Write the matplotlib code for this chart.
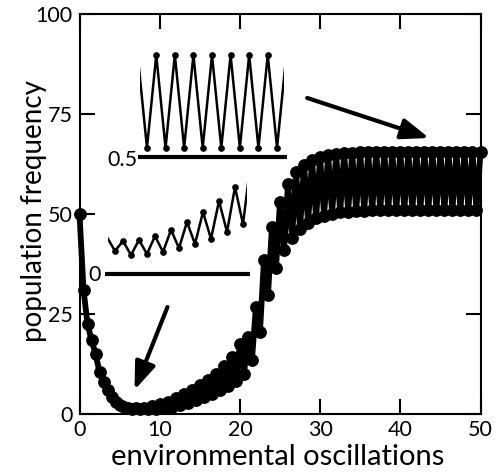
import matplotlib
matplotlib.use("Agg")
import matplotlib.pyplot as plt
import numpy as np

# ---- main series: value at integer steps (upper) and half steps (lower) ----
upper = [50, 22.5, 15.0, 8.0, 4.2, 2.2, 1.6, 1.4, 1.5, 1.9, 2.4, 3.0, 4.0, 5.0, 6.0,
         7.2, 8.5, 10.0, 12.0, 14.3, 17.5, 19.2, 26.8, 38.5, 46.8, 53.0, 57.5,
         60.5, 62.3, 63.5, 64.2, 64.7, 65.0, 65.2, 65.3, 65.4, 65.4, 65.5, 65.5,
         65.5, 65.5, 65.5, 65.5, 65.5, 65.5, 65.5, 65.5, 65.5, 65.5, 65.5, 65.5]
lower = [31, 18.5, 10.5, 6.0, 3.0, 1.7, 1.3, 1.2, 1.2, 1.3, 1.5, 1.8, 2.2, 2.8,
         3.5, 4.2, 5.0, 6.0, 7.0, 8.3, 10.0, 13.5, 20.5, 29.7, 36.5, 41.0, 44.0,
         46.3, 47.8, 48.9, 49.6, 50.1, 50.4, 50.6, 50.7, 50.8, 50.9, 50.9, 51.0,
         51.0, 51.0, 51.0, 51.0, 51.0, 51.0, 51.0, 51.0, 51.0, 51.0, 51.0]

x_ticks = [0, 10, 20, 30, 40, 50]
y_ticks = [0, 25, 50, 75, 100]

# ---- insets ----
inset_top_hi = 1.0
inset_top_lo = 0.545
inset_low_vals = [0.18, 0.113, 0.162, 0.093, 0.167, 0.098, 0.186, 0.108, 0.216,
                  0.127, 0.255, 0.147, 0.304, 0.172, 0.358, 0.206, 0.426, 0.245, 0.56]

t_main = []
y_main = []
for i in range(len(upper)):
    t_main.append(i)
    y_main.append(upper[i])
    if i < len(lower):
        t_main.append(i + 0.5)
        y_main.append(lower[i])

W, H = 497, 472
fig = plt.figure(figsize=(W / 100, H / 100), dpi=100)
font = ['Lato', 'DejaVu Sans']
plt.rcParams['font.family'] = font

def fr(x0, y0, x1, y1):
    return [x0 / W, 1 - y1 / H, (x1 - x0) / W, (y1 - y0) / H]

ax = fig.add_axes(fr(79.5, 14, 480.5, 414))
ax.plot(t_main, y_main, color='black', lw=4.2, marker='o', ms=8.2,
        clip_on=False, zorder=3)
ax.set_xlim(0, 50)
ax.set_ylim(0, 100)
ax.set_xticks(x_ticks)
ax.set_yticks(y_ticks)
ax.tick_params(direction='in', length=11, width=1.5, top=True, right=True,
               labelsize=15.5, pad=5)
ax.tick_params(axis='x', pad=4)
for s in ax.spines.values():
    s.set_linewidth(1.5)
ax.set_xlabel('environmental oscillations', fontsize=21, va='top')
ax.set_ylabel('population frequency', fontsize=20, va='center')
ax.xaxis.set_label_coords(0.495, -0.075)
ax.yaxis.set_label_coords(-0.113, 0.507)

arrow_style = dict(arrowstyle='-|>,head_length=1.2,head_width=0.45',
                   color='black', lw=3, shrinkA=0, shrinkB=0, mutation_scale=14)
ax.annotate('', xy=(43.6, 69), xytext=(28.4, 79), arrowprops=arrow_style)
ax.annotate('', xy=(6.86, 6), xytext=(10.97, 26.75), arrowprops=arrow_style)

# upper inset
ins1 = fig.add_axes(fr(140, 45, 284, 165))
t1 = np.arange(17)
v1 = [inset_top_hi if k % 2 == 0 else inset_top_lo for k in t1]
ins1.plot(t1, v1, color='black', lw=1.8)
ins1.plot(t1[1:-1], v1[1:-1], 'o', color='black', ms=3.8)
ins1.set_xlim(0.25, 15.75)
ins1.set_ylim(0.5 - 8 / 204, 0.5 + 112 / 204)
ins1.plot([0.03, 16.07], [0.5, 0.5], color='black', lw=3, clip_on=False,
          solid_capstyle='butt')
ins1.axis('off')
fig.text(137 / W, 1 - 160 / H, '0.5', ha='right', va='center', fontsize=15.5)

# lower inset
ins2 = fig.add_axes(fr(108, 130, 247, 280))
t2 = np.arange(len(inset_low_vals))
ins2.plot(t2, inset_low_vals, color='black', lw=1.8)
ins2.plot(t2[1:-1], inset_low_vals[1:-1], 'o', color='black', ms=3.8)
ins2.set_xlim(0.125, 17.5)
ins2.set_ylim(-6 / 204, 144 / 204)
ins2.plot([-0.25, 17.9], [0, 0], color='black', lw=3, clip_on=False,
          solid_capstyle='butt')
ins2.axis('off')
fig.text(101 / W, 1 - 275 / H, '0', ha='right', va='center', fontsize=15.5)

fig.savefig('out.png', dpi=100)
